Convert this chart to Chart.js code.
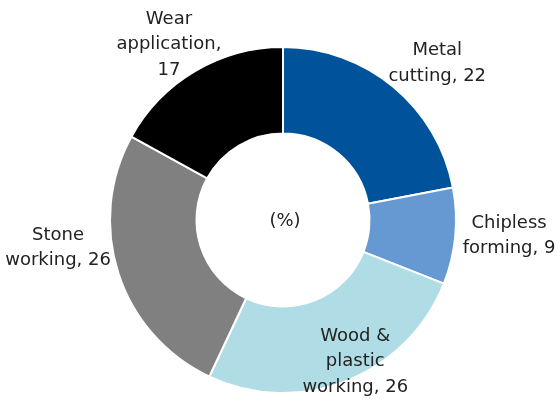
<!DOCTYPE html>
<html>
<head>
<meta charset="utf-8">
<script src="https://cdn.jsdelivr.net/npm/chart.js@4.4.0/dist/chart.umd.min.js"></script>
<style>
  html, body { margin: 0; padding: 0; background: #fff; }
  #wrap { width: 557px; height: 399px; }
</style>
</head>
<body>
<div id="wrap"><canvas id="donut"></canvas></div>
<script>
// data (shares in %)
const categories = ['Metal cutting', 'Chipless forming', 'Wood & plastic working', 'Stone working', 'Wear application'];
const shares = [22, 9, 26, 26, 17];
const labelLines = [
    ['Metal', 'cutting, 22'],
    ['Chipless', 'forming, 9'],
    ['Wood &', 'plastic', 'working, 26'],
    ['Stone', 'working, 26'],
    ['Wear', 'application,', '17']
];
const centerText = '(%)';

const sliceColors = ['#00529b', '#6699d2', '#b0dde5', '#808080', '#000000'];
// label placement: [angle nudge in degrees, distance as multiple of outer radius]
const labelPlace = [[5, 1.27], [-1.4, 1.31], [-5.4, 0.92], [11, 1.31], [-2.4, 1.21]];

const labelPlugin = {
    id: 'sliceLabels',
    afterDatasetsDraw(chart) {
        const ctx = chart.ctx;
        const arcs = chart.getDatasetMeta(0).data;
        ctx.save();
        ctx.font = '18px "DejaVu Sans"';
        ctx.fillStyle = '#222';
        ctx.textAlign = 'center';
        ctx.textBaseline = 'middle';
        const lineH = 25.5;
        arcs.forEach((arc, i) => {
            const mid = (arc.startAngle + arc.endAngle) / 2 + labelPlace[i][0] * Math.PI / 180;
            const r = arc.outerRadius * labelPlace[i][1];
            const x = arc.x + Math.cos(mid) * r;
            const y = arc.y + Math.sin(mid) * r;
            const lines = labelLines[i];
            lines.forEach((t, k) => {
                ctx.fillText(t, x, y + (k - (lines.length - 1) / 2) * lineH);
            });
        });
        const a0 = arcs[0];
        ctx.fillText(centerText, a0.x + 2, a0.y + 1);
        ctx.restore();
    }
};

new Chart(document.getElementById('donut'), {
    type: 'doughnut',
    data: {
        labels: categories,
        datasets: [{
            data: shares,
            backgroundColor: sliceColors,
            borderColor: '#ffffff',
            borderWidth: 2
        }]
    },
    options: {
        responsive: true,
        maintainAspectRatio: false,
        animation: false,
        cutout: '50%',
        layout: { padding: { top: 46, bottom: 5, left: 9, right: 0 } },
        plugins: {
            legend: { display: false },
            tooltip: { enabled: false }
        }
    },
    plugins: [labelPlugin]
});
</script>
</body>
</html>
